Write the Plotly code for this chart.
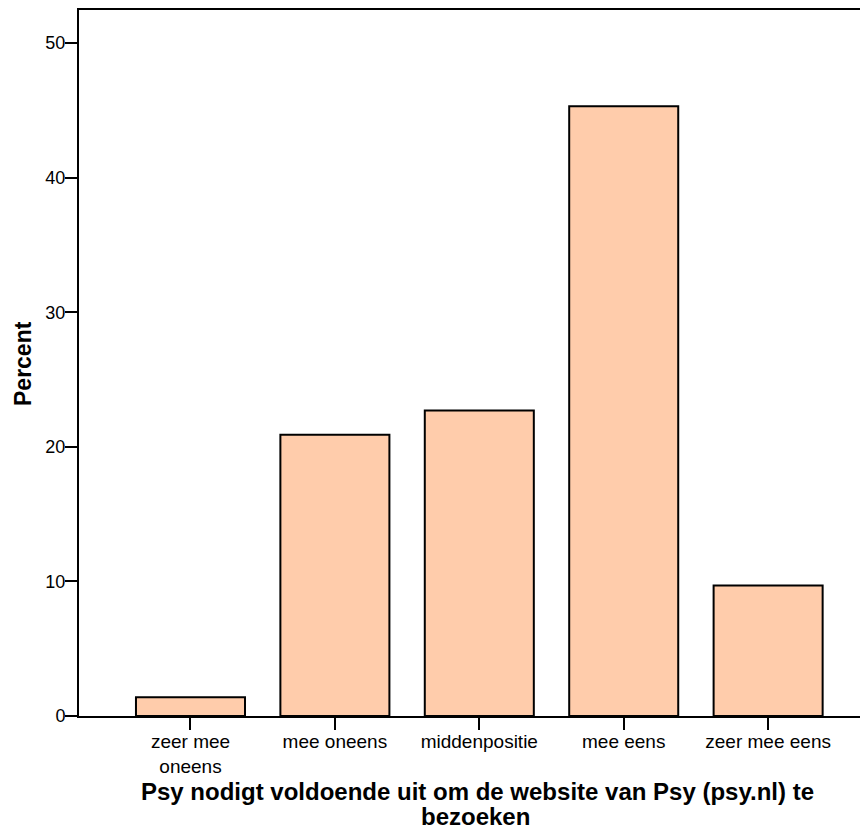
import plotly.graph_objects as go

categories = ["zeer mee<br>oneens", "mee oneens", "middenpositie", "mee eens", "zeer mee eens"]
percent = [1.4, 20.9, 22.7, 45.3, 9.7]
y_ticks = [0, 10, 20, 30, 40, 50]
x_title_lines = ["Psy nodigt voldoende uit om de website van Psy (psy.nl) te", "bezoeken"]
y_title = "Percent"

FONT = "Liberation Sans, Arial, sans-serif"

# page body has an 8px margin; figure coords = page coords - 8
L, T, B = 71, 2, 122
PW = 868 - L          # plot width in px
PH = 830 - T - B      # plot height in px

def px_x(page_x):
    return (page_x - 8 - L) / PW

def px_y(page_y):
    return 1 - (page_y - 8 - T) / PH

fig = go.Figure()
fig.add_trace(go.Bar(
    x=list(range(len(categories))),
    y=percent,
    width=0.755,
    marker=dict(color="#ffccab", line=dict(color="black", width=2)),
    hoverinfo="skip",
))

fig.update_layout(
    width=868, height=830,
    margin=dict(l=L, r=0, t=T, b=B),
    paper_bgcolor="white", plot_bgcolor="white",
    showlegend=False,
    font=dict(family=FONT, color="black"),
    xaxis=dict(
        range=[-0.772, 4.747],
        tickmode="array",
        tickvals=list(range(len(categories))),
        ticktext=categories,
        ticks="outside", ticklen=12, tickwidth=2, tickcolor="black",
        ticklabelstandoff=-5,
        showline=True, linecolor="black", linewidth=2, mirror=True,
        showgrid=False, zeroline=False,
        tickfont=dict(size=19, family=FONT, color="black"),
    ),
    yaxis=dict(
        range=[0, 52.45],
        tickmode="array",
        tickvals=y_ticks,
        ticks="outside", ticklen=12, tickwidth=2, tickcolor="black",
        ticklabelstandoff=-4,
        showline=True, linecolor="black", linewidth=2, mirror=False,
        showgrid=False, zeroline=False,
        tickfont=dict(size=18, family=FONT, color="black"),
    ),
)

fig.add_annotation(text="<b>" + y_title + "</b>", xref="paper", yref="paper",
                   x=px_x(23), y=px_y(364), xanchor="center", yanchor="middle",
                   textangle=-90, showarrow=False,
                   font=dict(size=23, family=FONT, color="black"))
fig.add_annotation(text="<b>" + x_title_lines[0] + "</b>", xref="paper", yref="paper",
                   x=px_x(477), y=px_y(791), xanchor="center", yanchor="middle",
                   showarrow=False, font=dict(size=24, family=FONT, color="black"))
fig.add_annotation(text="<b>" + x_title_lines[1] + "</b>", xref="paper", yref="paper",
                   x=px_x(475), y=px_y(817), xanchor="center", yanchor="middle",
                   showarrow=False, font=dict(size=24, family=FONT, color="black"))

fig.write_html("out.html")
